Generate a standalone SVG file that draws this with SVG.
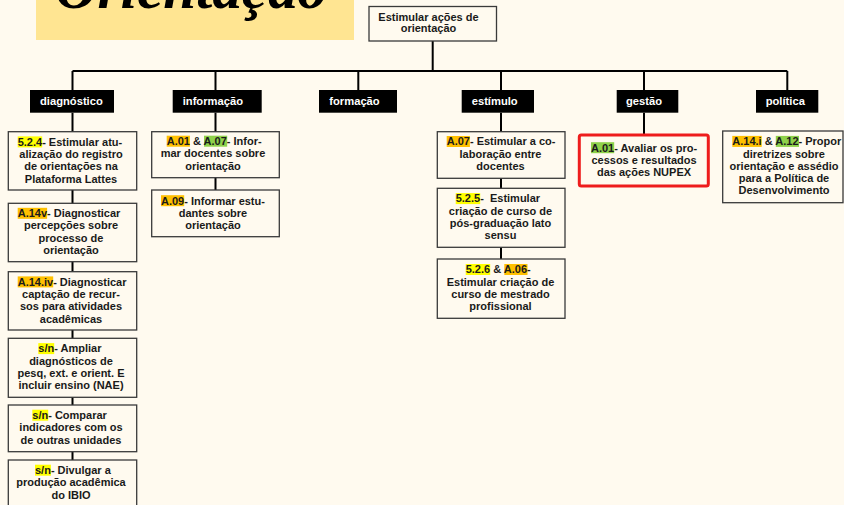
<svg xmlns="http://www.w3.org/2000/svg" width="844" height="505" viewBox="0 0 844 505">
<style>
.bg{fill:#fffaef}
.box{fill:#fffaef;stroke:#3a3a3a;stroke-width:1.3}
.red{fill:#fffaef;stroke:#ee1c1c;stroke-width:3}
.lbl{fill:#000}
.lt{font-family:"Liberation Sans",Arial,sans-serif;font-weight:bold;font-size:11.2px;fill:#fff}
.t{font-family:"Liberation Sans",Arial,sans-serif;font-weight:bold;font-size:11px;fill:#1a1a1a}
.m{text-anchor:middle}
.conn{stroke:#000;stroke-width:2;fill:none}
.hy{fill:#ffff00}.ho{fill:#ffc000}.hg{fill:#8fd14a}
</style>
<rect class="bg" x="0" y="0" width="844" height="505"/>
<g id="title">
<rect x="36" y="-5" width="318" height="45" fill="#ffe592"/>
<text x="55" y="8" font-family="Liberation Serif,serif" font-weight="bold" font-style="italic" font-size="60" textLength="272" lengthAdjust="spacingAndGlyphs" fill="#000">Orientação</text>
</g>
<g id="connectors" class="conn">
<path d="M432.7,41 V71"/>
<path d="M72.5,71 H787.3"/>
<path d="M72.5,71 V90 M215.5,71 V90 M358.3,71 V90 M501,71 V90 M644,71 V90 M787.3,71 V90"/>
<path d="M72.5,112.7 V460"/>
<path d="M215.5,112.7 V190"/>
<path d="M501,112.7 V259"/>
<path d="M644,112.7 V135"/>
</g>
<g id="root">
<rect class="box" x="369" y="6.5" width="127.5" height="34.5"/>
<text class="t m" x="428.5" y="20.5">Estimular ações de</text>
<text class="t m" x="428.5" y="32">orientação</text>
</g>
<g id="cat-diagnostico"><rect class="lbl" x="30" y="90" width="84" height="22.7"/><text class="lt" x="40" y="105">diagnóstico</text></g>
<g id="cat-informacao"><rect class="lbl" x="172.7" y="90" width="89" height="22.7"/><text class="lt" x="182.7" y="105">informação</text></g>
<g id="cat-formacao"><rect class="lbl" x="319" y="90" width="78" height="22.7"/><text class="lt" x="329.3" y="105">formação</text></g>
<g id="cat-estimulo"><rect class="lbl" x="461.7" y="90" width="72.3" height="22.7"/><text class="lt" x="471.7" y="105">estímulo</text></g>
<g id="cat-gestao"><rect class="lbl" x="616.7" y="90" width="61.6" height="22.7"/><text class="lt" x="626" y="105">gestão</text></g>
<g id="cat-politica"><rect class="lbl" x="756" y="90" width="62.3" height="22.7"/><text class="lt" x="765.7" y="105">política</text></g>

<g id="d1">
<rect class="box" x="8.3" y="131.7" width="128.4" height="58.3"/>
<rect class="hy" x="17.7" y="136.4" width="24.5" height="11"/>
<text class="t" x="17.7" y="145.7">5.2.4- Estimular atu-</text>
<text class="t m" x="71" y="158">alização do registro</text>
<text class="t m" x="71" y="170.3">de orientações na</text>
<text class="t m" x="71" y="182.6">Plataforma Lattes</text>
</g>
<g id="d2">
<rect class="box" x="8.3" y="203.3" width="128.4" height="58.4"/>
<rect class="ho" x="17.7" y="207.8" width="29.4" height="11"/>
<text class="t" x="17.7" y="217.1">A.14v- Diagnosticar</text>
<text class="t m" x="71" y="229.4">percepções sobre</text>
<text class="t m" x="71" y="241.7">processo de</text>
<text class="t m" x="71" y="254">orientação</text>
</g>
<g id="d3">
<rect class="box" x="8.3" y="271.7" width="128.4" height="58.3"/>
<rect class="ho" x="17.7" y="276.4" width="35.5" height="11"/>
<text class="t" x="17.7" y="285.7">A.14.iv- Diagnosticar</text>
<text class="t m" x="71" y="298">captação de recur-</text>
<text class="t m" x="71" y="310.3">sos para atividades</text>
<text class="t m" x="71" y="322.6">acadêmicas</text>
</g>
<g id="d4">
<rect class="box" x="8.3" y="338.3" width="128.4" height="59"/>
<rect class="hy" x="38.3" y="343.1" width="15.9" height="11"/>
<text class="t" x="38.3" y="352.4">s/n- Ampliar</text>
<text class="t m" x="71" y="364.7">diagnósticos de</text>
<text class="t m" x="71" y="377">pesq, ext. e orient. E</text>
<text class="t m" x="71" y="389.3">incluir ensino (NAE)</text>
</g>
<g id="d5">
<rect class="box" x="8.3" y="405" width="128.4" height="46.7"/>
<rect class="hy" x="32.3" y="409.7" width="15.9" height="11"/>
<text class="t" x="32.3" y="419">s/n- Comparar</text>
<text class="t m" x="71" y="431.3">indicadores com os</text>
<text class="t m" x="71" y="443.6">de outras unidades</text>
</g>
<g id="d6">
<rect class="box" x="8.3" y="460" width="128.4" height="47"/>
<rect class="hy" x="35" y="464.7" width="15.9" height="11"/>
<text class="t" x="35" y="474">s/n- Divulgar a</text>
<text class="t m" x="71" y="486.3">produção acadêmica</text>
<text class="t m" x="71" y="498.6">do IBIO</text>
</g>

<g id="i1">
<rect class="box" x="151.7" y="131.7" width="127.6" height="46"/>
<rect class="ho" x="166.7" y="135.7" width="23.2" height="11"/>
<rect class="hg" x="204" y="135.7" width="23.2" height="11"/>
<text class="t" x="166.7" y="145">A.01 &amp; A.07- Infor-</text>
<text class="t m" x="213" y="157.3">mar docentes sobre</text>
<text class="t m" x="213" y="169.6">orientação</text>
</g>
<g id="i2">
<rect class="box" x="151.7" y="190" width="127.6" height="46.7"/>
<rect class="ho" x="161" y="195.2" width="23.2" height="11"/>
<text class="t" x="161" y="204.5">A.09- Informar estu-</text>
<text class="t m" x="213" y="216.8">dantes sobre</text>
<text class="t m" x="213" y="229.1">orientação</text>
</g>

<g id="e1">
<rect class="box" x="437.3" y="131.7" width="127.7" height="46.6"/>
<rect class="ho" x="446.7" y="136" width="23.2" height="11"/>
<text class="t" x="446.7" y="145.3">A.07- Estimular a co-</text>
<text class="t m" x="500.5" y="157.6">laboração entre</text>
<text class="t m" x="500.5" y="169.9">docentes</text>
</g>
<g id="e2">
<rect class="box" x="437.3" y="188.3" width="127.7" height="59"/>
<rect class="hy" x="455.7" y="193.1" width="24.5" height="11"/>
<text class="t" x="455.7" y="202.4">5.2.5-&#160; Estimular</text>
<text class="t m" x="500.5" y="214.7">criação de curso de</text>
<text class="t m" x="500.5" y="227">pós-graduação lato</text>
<text class="t m" x="500.5" y="239.3">sensu</text>
</g>
<g id="e3">
<rect class="box" x="437.3" y="259" width="127.7" height="59.3"/>
<rect class="hy" x="465.7" y="264" width="24.5" height="11"/>
<rect class="ho" x="504.3" y="264" width="23.2" height="11"/>
<text class="t" x="465.7" y="273.3">5.2.6 &amp; A.06-</text>
<text class="t m" x="500.5" y="285.6">Estimular criação de</text>
<text class="t m" x="500.5" y="297.9">curso de mestrado</text>
<text class="t m" x="500.5" y="310.2">profissional</text>
</g>

<g id="g1">
<rect class="red" x="579.3" y="135" width="129" height="51" rx="2"/>
<rect class="hg" x="591" y="142.2" width="23.2" height="11"/>
<text class="t" x="591" y="151.5">A.01- Avaliar os pro-</text>
<text class="t m" x="644" y="163.8">cessos e resultados</text>
<text class="t m" x="644" y="176.1">das ações NUPEX</text>
</g>

<g id="p1">
<rect class="box" x="722.7" y="131" width="120.3" height="71.7"/>
<rect class="ho" x="732.3" y="135.9" width="29.4" height="11"/>
<rect class="hg" x="775.8" y="135.9" width="23.2" height="11"/>
<text class="t" x="732.3" y="145.2">A.14.i &amp; A.12- Propor</text>
<text class="t m" x="784" y="157.5">diretrizes sobre</text>
<text class="t m" x="784" y="169.8">orientação e assédio</text>
<text class="t m" x="784" y="182.1">para a Política de</text>
<text class="t m" x="784" y="194.4">Desenvolvimento</text>
</g>
</svg>
